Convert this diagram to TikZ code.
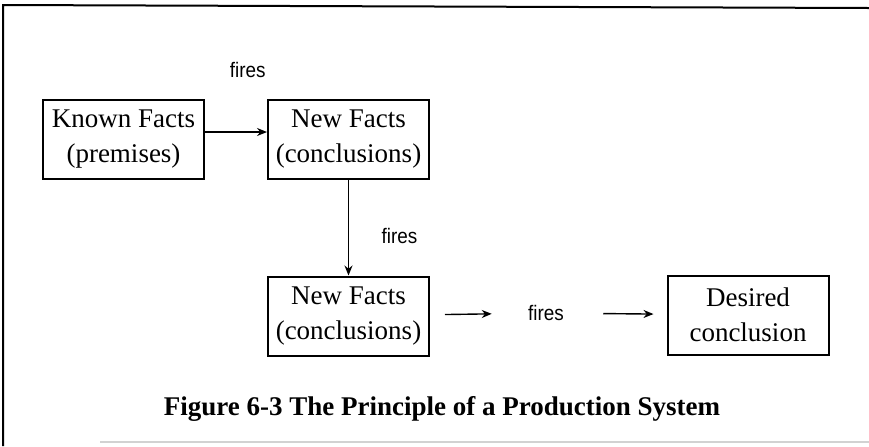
\documentclass[tikz,border=0pt]{standalone}
\usepackage{fontspec}
\setmainfont{Liberation Serif}
\newfontfamily\labelfont{Liberation Sans}[FakeStretch=0.9]
\usepackage{tikz}
\usetikzlibrary{arrows.meta, positioning}

\begin{document}
\begin{tikzpicture}[
    x=0.5pt, y=-0.5pt,
    node distance=31pt,
    factbox/.style={rectangle, draw, line width=1pt, inner sep=0pt, align=center,
        minimum width=80.5pt, minimum height=39.5pt,
        font=\fontsize{13.5}{17.5}\selectfont},
    firesnote/.style={inner sep=0pt, font=\labelfont\fontsize{10.5}{12}\selectfont},
    arrow/.style={-{Stealth[length=5pt, width=4pt]}, line width=0.7pt}
]
\useasboundingbox (0,0) rectangle (869,446);

% Frame around the figure
\draw[line width=1pt] (3,446) -- (3,5) -- (869,8);
\draw[line width=0.8pt, gray!35] (100,442) -- (869,442);

% Fact boxes
\node [factbox] (known) at (123.5,139) {Known Facts\\(premises)};
\node [factbox, right=31pt of known] (newtop) {New Facts\\(conclusions)};
\node [factbox, below=48pt of newtop] (newbot) {New Facts\\(conclusions)};
\node [firesnote] (firing) at (546,313) {fires};
\node [factbox] (desired) at (748,315) {Desired\\conclusion};

% Rule firings
\draw [arrow] ([yshift=3.5pt]known.east) -- node[firesnote, pos=0.69, yshift=31pt] {fires} ([yshift=3.5pt]newtop.west);
\draw [arrow] (newtop) -- node[firesnote, pos=0.59, xshift=25.5pt] {fires} (newbot);
\draw [arrow, shorten <=7.5pt, shorten >=18pt] (newbot) -- (firing);
\draw [arrow, shorten <=19.5pt, shorten >=6.5pt] (firing) -- (desired);

% Caption
\node [font=\bfseries\fontsize{13.5}{16}\selectfont] (caption) at (442,409)
    {Figure 6-3 The Principle of a Production System};

\end{tikzpicture}
\end{document}
